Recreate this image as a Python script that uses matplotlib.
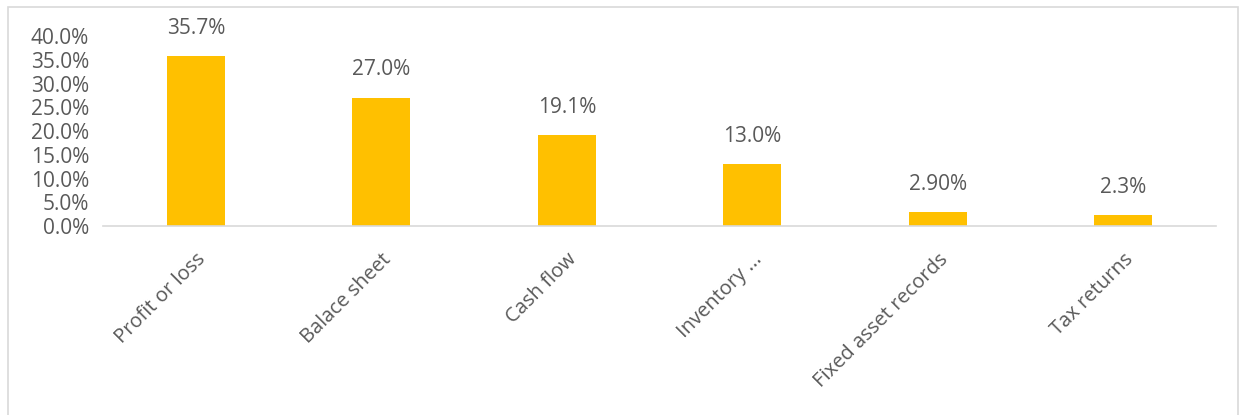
import matplotlib.pyplot as plt
from matplotlib.patches import Rectangle
from matplotlib.ticker import FuncFormatter, MultipleLocator

categories = ["Profit or loss", "Balace sheet", "Cash flow", "Inventory ...",
              "Fixed asset records", "Tax returns"]
values = [35.7, 27.0, 19.1, 13.0, 2.9, 2.3]
value_labels = ["35.7%", "27.0%", "19.1%", "13.0%", "2.90%", "2.3%"]

text_color = "#595959"
bar_color = "#FFC000"

plt.rcParams["font.family"] = ["Open Sans", "DejaVu Sans"]

fig = plt.figure(figsize=(12.44, 4.15), dpi=100)
ax = fig.add_axes([103 / 1244, 1 - 226 / 415, 1113 / 1244, 190 / 415])

x = list(range(len(categories)))
ax.bar(x, values, width=0.31, color=bar_color)

# data labels above the bars
for xi, v, lab in zip(x, values, value_labels):
    ax.annotate(lab, (xi, v), xytext=(0, 20), textcoords="offset points",
                ha="center", va="center", fontsize=15, color=text_color)

ax.set_xlim(-0.5, len(categories) - 0.5)
ax.set_ylim(0, 40)
ax.yaxis.set_major_locator(MultipleLocator(5))
ax.yaxis.set_major_formatter(FuncFormatter(lambda v, p: "%.1f%%" % v))
ax.set_xticks(x)
ax.set_xticklabels(categories, rotation=45, ha="right", rotation_mode="anchor")
ax.tick_params(axis="both", length=0, colors=text_color)
ax.tick_params(axis="y", labelsize=15, pad=10)
ax.tick_params(axis="x", labelsize=14.5, pad=17)

for s in ["top", "right", "left"]:
    ax.spines[s].set_visible(False)
ax.spines["bottom"].set_color("#D9D9D9")
ax.spines["bottom"].set_linewidth(1.2)

# chart area border
fig.patches.append(Rectangle((8 / 1244, -0.05), 1230 / 1244, 1.05 - 7 / 415,
                             transform=fig.transFigure, fill=False,
                             edgecolor="#D9D9D9", linewidth=1.2))

fig.savefig("out.png", dpi=100)
